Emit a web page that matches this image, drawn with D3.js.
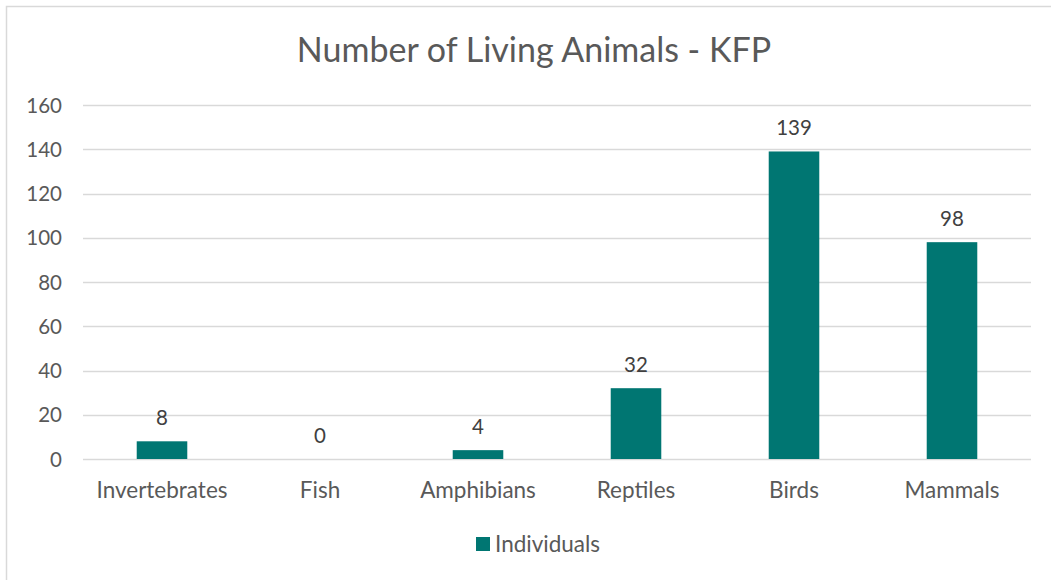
<!DOCTYPE html>
<html><head><meta charset="utf-8">
<script src="https://cdn.jsdelivr.net/npm/d3@7"></script>
<style>body{margin:0;background:#fff;font-family:Lato,"Open Sans",sans-serif;}</style>
</head><body>
<svg id="chart" width="1051" height="580"></svg>
<script>
const categories = ["Invertebrates","Fish","Amphibians","Reptiles","Birds","Mammals"];
const values = [8,0,4,32,139,98];
const yTicks = [0,20,40,60,80,100,120,140,160];
const seriesName = "Individuals";
const title = "Number of Living Animals - KFP";

const svg = d3.select("#chart");
const color = "#007672";
const textColor = "#595959";
svg.append("rect").attr("x",6.5).attr("y",6.5).attr("width",1060).attr("height",600)
  .attr("fill","#fff").attr("stroke","#d9d9d9").attr("stroke-width",1.5);

const x = d3.scaleBand().domain(categories).range([83,1031]).paddingInner(0.68).paddingOuter(0.34);
const y = d3.scaleLinear().domain([0,160]).range([459,105]);

svg.append("text").attr("x",534).attr("y",62).attr("text-anchor","middle")
  .attr("font-size",34).attr("fill",textColor).text(title);

const g = svg.append("g");
g.selectAll("line.grid").data(yTicks).join("line").attr("class","grid")
  .attr("x1",83).attr("x2",1031).attr("y1",d=>Math.round(y(d))+0.5).attr("y2",d=>Math.round(y(d))+0.5)
  .attr("stroke","#d9d9d9").attr("stroke-width",1.5);

const yAxis = d3.axisLeft(y).tickValues(yTicks).tickSize(0).tickPadding(0);
const ya = svg.append("g").attr("transform","translate(62,0)").call(yAxis);
ya.select(".domain").remove();
ya.selectAll("text").attr("font-size",20.5).attr("fill",textColor).attr("font-family","Lato,'Open Sans',sans-serif").attr("dy","0.35em");

g.selectAll("rect.bar").data(values).join("rect").attr("class","bar")
  .attr("x",(d,i)=>x(categories[i])).attr("width",x.bandwidth())
  .attr("y",d=>y(d)).attr("height",d=>y(0)-y(d)).attr("fill",color);

g.selectAll("text.lbl").data(values).join("text").attr("class","lbl")
  .attr("x",(d,i)=>x(categories[i])+x.bandwidth()/2).attr("y",d=>y(d)-16)
  .attr("text-anchor","middle").attr("font-size",20.5).attr("fill","#404040").text(d=>d);

const xAxis = d3.axisBottom(x).tickSize(0).tickPadding(0);
const xa = svg.append("g").attr("transform","translate(0,459)").call(xAxis);
xa.select(".domain").remove();
xa.selectAll("text").attr("font-size",22.5).attr("fill",textColor).attr("font-family","Lato,'Open Sans',sans-serif").attr("dy",0).attr("y",39);

const lg = svg.append("g");
lg.append("rect").attr("x",476).attr("y",537).attr("width",14).attr("height",14).attr("fill",color);
lg.append("text").attr("x",495).attr("y",551.5).attr("font-size",22.5).attr("fill",textColor).text(seriesName);
</script>
</body></html>
